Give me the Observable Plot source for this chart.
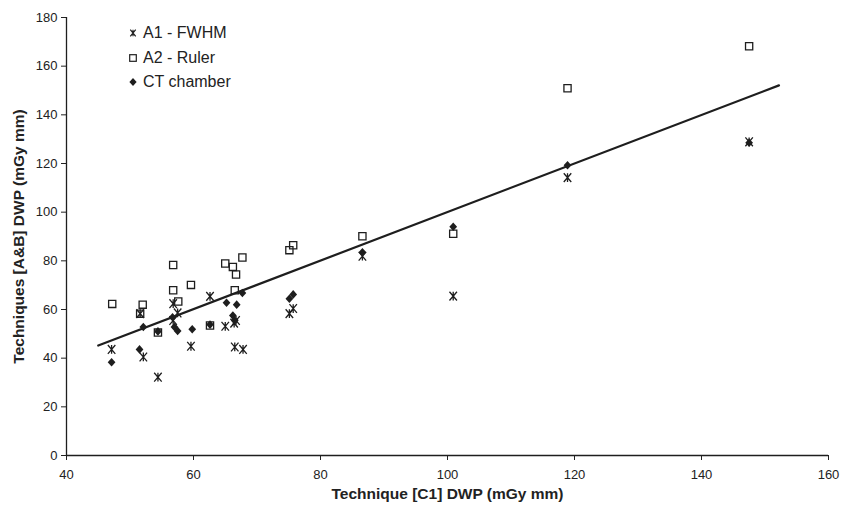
<!DOCTYPE html>
<html>
<head>
<meta charset="utf-8">
<script src="https://cdn.jsdelivr.net/npm/d3@7"></script>
<script src="https://cdn.jsdelivr.net/npm/@observablehq/plot@0.6"></script>
<style>
  html, body { margin: 0; padding: 0; background: #fff; }
  #wrap { position: relative; width: 842px; height: 506px; font-family: "Liberation Sans", Arial, sans-serif; }
  #wrap svg [aria-label="x-axis label"] text, #wrap svg [aria-label="y-axis label"] text { font-weight: bold; font-size: 15.5px; }
  #legend { position: absolute; left: 128px; top: 21px; font-size: 16px; color: #222; line-height: 24.5px; }
  #legend .row { display: flex; align-items: center; height: 24.5px; }
  #legend svg { margin-right: 5px; }
</style>
</head>
<body>
<div id="wrap"><div id="legend"></div></div>
<script>
// ---- Data ----
const seriesNames = ["A1 - FWHM", "A2 - Ruler", "CT chamber"];

const a1X = [47.1, 51.6, 52.1, 54.4, 56.8, 57.5, 56.8, 59.6, 62.6, 65.0, 66.4, 66.5, 66.7, 67.8, 75.1, 75.7, 86.6, 100.9, 118.9, 147.5];
const a1Y = [43.6, 58.3, 40.5, 32.2, 62.4, 58.6, 55.5, 44.9, 65.4, 53.1, 54.4, 44.6, 55.5, 43.6, 58.3, 60.4, 81.9, 65.5, 114.2, 128.9];

const a2X = [47.2, 51.6, 52.0, 54.4, 56.8, 56.8, 57.6, 59.6, 62.6, 65.0, 66.2, 66.7, 66.5, 67.7, 75.1, 75.7, 86.6, 100.9, 118.9, 147.5];
const a2Y = [62.3, 58.3, 62.0, 50.5, 78.3, 67.9, 63.3, 70.1, 53.4, 78.9, 77.5, 74.4, 67.9, 81.4, 84.4, 86.4, 90.1, 91.1, 150.9, 168.2];

const ctX = [47.1, 51.5, 52.1, 54.4, 56.7, 57.0, 57.5, 59.8, 62.6, 65.2, 66.2, 66.5, 66.8, 67.7, 75.1, 75.7, 86.6, 100.9, 118.9, 147.5];
const ctY = [38.3, 43.6, 52.8, 51.0, 56.8, 52.8, 51.2, 51.9, 53.8, 62.8, 57.5, 55.5, 62.0, 66.8, 64.4, 66.2, 83.5, 94.0, 119.3, 128.5];

const fitX = [45.0, 152.2];
const fitY = [45.2, 152.1];

const xTicks = [40, 60, 80, 100, 120, 140, 160];
const yTicks = [0, 20, 40, 60, 80, 100, 120, 140, 160, 180];

// ---- Symbols ----
const starSym = { draw(ctx, size) { const r = Math.sqrt(size / Math.PI); const d = r * 0.85;
  ctx.moveTo(-d, -r); ctx.lineTo(d, r); ctx.moveTo(-d, r); ctx.lineTo(d, -r); ctx.moveTo(0, -r); ctx.lineTo(0, r); } };
const squareSym = { draw(ctx, size) { const r = Math.sqrt(size / Math.PI); ctx.rect(-r, -r, 2 * r, 2 * r); } };
const diamondSym = { draw(ctx, size) { const r = Math.sqrt(size / Math.PI);
  ctx.moveTo(0, -r); ctx.lineTo(r * 0.9, 0); ctx.lineTo(0, r); ctx.lineTo(-r * 0.9, 0); ctx.closePath(); } };

const toRows = (xs, ys) => xs.map((x, i) => ({x, y: ys[i]}));
const ink = "#1e1e1e";

const chart = Plot.plot({
  width: 842,
  height: 506,
  marginLeft: 66,
  marginRight: 14,
  marginTop: 17,
  marginBottom: 51,
  style: { fontFamily: "'Liberation Sans', Arial, sans-serif", fontSize: "13px", color: "#222", background: "#fff", overflow: "visible" },
  x: { domain: [40, 160], ticks: xTicks, tickSize: 5, tickPadding: 9, label: "Technique [C1] DWP (mGy mm)", labelAnchor: "center", labelArrow: "none", labelOffset: 43 },
  y: { domain: [0, 180], ticks: yTicks, tickSize: 5, tickPadding: 4, label: "Techniques [A&B] DWP (mGy mm)", labelAnchor: "center", labelArrow: "none", labelOffset: 54 },
  marks: [
    Plot.ruleY([0], { stroke: ink, strokeWidth: 1.3 }),
    Plot.ruleX([40], { stroke: ink, strokeWidth: 1.3 }),
    Plot.line(toRows(fitX, fitY), { x: "x", y: "y", stroke: ink, strokeWidth: 2.2 }),
    Plot.dot(toRows(a2X, a2Y), { x: "x", y: "y", symbol: squareSym, r: 3.6, fill: "none", stroke: ink, strokeWidth: 1.3 }),
    Plot.dot(toRows(ctX, ctY), { x: "x", y: "y", symbol: diamondSym, r: 4.3, fill: ink, stroke: "none" }),
    Plot.dot(toRows(a1X, a1Y), { x: "x", y: "y", symbol: starSym, r: 4.4, fill: "none", stroke: ink, strokeWidth: 1.3 })
  ]
});
document.getElementById("wrap").appendChild(chart);

// ---- Legend ----
const legendSvgs = [
  `<svg width="10" height="10" viewBox="-5 -5 10 10"><path d="M-2.7,-3.3L2.7,3.3M-2.7,3.3L2.7,-3.3M0,-3.3L0,3.3" stroke="${ink}" stroke-width="1.2" fill="none"/></svg>`,
  `<svg width="10" height="10" viewBox="-5 -5 10 10"><rect x="-3.3" y="-3.3" width="6.6" height="6.6" stroke="${ink}" stroke-width="1.2" fill="none"/></svg>`,
  `<svg width="10" height="10" viewBox="-5 -5 10 10"><path d="M0,-4L3.6,0L0,4L-3.6,0Z" fill="${ink}"/></svg>`
];
const legend = document.getElementById("legend");
seriesNames.forEach((name, i) => {
  const row = document.createElement("div");
  row.className = "row";
  row.innerHTML = legendSvgs[i] + `<span>${name}</span>`;
  legend.appendChild(row);
});
</script>
</body>
</html>
